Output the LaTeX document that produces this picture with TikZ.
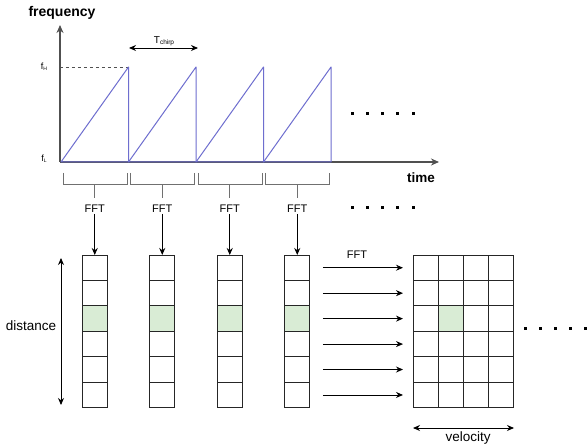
\documentclass[tikz,border=0pt]{standalone}
\usepackage{fontspec}
\setmainfont{Liberation Sans}
\usetikzlibrary{arrows.meta}
\definecolor{axisgray}{HTML}{505050}
\definecolor{brgray}{HTML}{707070}
\definecolor{chirpblue}{HTML}{6E6ECF}
\definecolor{cellgreen}{HTML}{D9ECD5}
\tikzset{
  arr/.style={-{Stealth[length=7bp,width=6bp]}, line width=0.9bp, black},
  dblarr/.style={{Stealth[length=7bp,width=6bp]}-{Stealth[length=7bp,width=6bp]}, line width=0.9bp, black},
  cell/.style={draw=black!85, line width=0.9bp, minimum width=25bp, minimum height=25.45bp,
               inner sep=0pt, outer sep=0pt, fill=white},
  hot/.style={cell, fill=cellgreen},
  lbl/.style={inner sep=1bp, font=\fontsize{13.5bp}{16bp}\selectfont},
  bold/.style={inner sep=1bp, font=\fontsize{14bp}{16bp}\selectfont\bfseries},
  fftlbl/.style={inner sep=1bp, font=\fontsize{11bp}{13bp}\selectfont},
  bracket/.style={draw=brgray, line width=1bp},
}
\newcommand{\dotrow}[3]{% x0, y, step
  \foreach \k in {0,...,4}{\fill ({#1+#3*\k-1.5},{#2-1.5}) rectangle ++(3,3);}}
\begin{document}
\begin{tikzpicture}[x=1bp,y=-1bp]
\useasboundingbox[fill=white] (0,0) rectangle (587,444);

% time-frequency axes
\coordinate (O) at (60,162);
\coordinate (ytop) at (60,25);
\coordinate (xend) at (439,162);
\draw[-{Stealth[length=8bp,width=7bp]}, axisgray, line width=1.2bp] (O) -- (ytop);
\draw[-{Stealth[length=8bp,width=7bp]}, axisgray, line width=1.2bp] (O) -- (xend);
\node[bold] (freq) at (62,13) {frequency};
\node[bold, font=\fontsize{13.5bp}{16bp}\selectfont\bfseries] (time) at (421,178) {time};
\node[inner sep=0pt, font=\fontsize{9bp}{10bp}\selectfont] (fH) at (44,67) {f\raisebox{-1bp}{\fontsize{5bp}{6bp}\selectfont H}};
\node[inner sep=0pt, font=\fontsize{9bp}{10bp}\selectfont] (fL) at (44,159) {f\raisebox{-1bp}{\fontsize{5bp}{6bp}\selectfont L}};
\draw[dashed, axisgray, line width=0.8bp] (60,67) -- (128,67);

% sawtooth chirps
\foreach \i in {0,...,3}{
  \pgfmathsetmacro{\xs}{61+67.5*\i}
  \pgfmathsetmacro{\xe}{\xs+67.5}
  \draw[chirpblue, line width=1bp, line join=round] (\xs,162) -- (\xe,67) -- (\xe,162) -- cycle;
}

% chirp duration
\node[inner sep=0pt, font=\fontsize{10bp}{12bp}\selectfont] (tc) at (164,41) {T\raisebox{-1.5bp}{\fontsize{6.5bp}{8bp}\selectfont chirp}};
\coordinate (tcl) at (129,48);
\coordinate (tcr) at (198,48);
\draw[dblarr] (tcl) -- (tcr);

% continuation dots
\dotrow{352}{114}{15.25}
\dotrow{352}{208}{15.25}
\dotrow{525}{328}{15}

% brackets, FFT labels and range columns
\foreach \i in {1,...,4}{
  \pgfmathsetmacro{\xs}{61+67.5*(\i-1)}
  \pgfmathsetmacro{\xc}{\xs+33.75}
  \draw[bracket] (\xs+2,173) -- (\xs+2,185) -- (\xs+66,185) -- (\xs+66,173);
  \coordinate (b\i) at (\xc,185);
  \coordinate (bs\i) at (\xc,198);
  \draw[bracket] (b\i) -- (bs\i);
  \node[fftlbl] (fft\i) at (\xc,209) {FFT};
  \foreach \r in {1,...,6}{
    \ifnum\r=3
      \node[hot] (col\i-\r) at (\xc,{255+25.45*(\r-0.5)}) {};
    \else
      \node[cell] (col\i-\r) at (\xc,{255+25.45*(\r-0.5)}) {};
    \fi
  }
  \draw[arr] (fft\i.south) -- (col\i-1.north);
}

% range axis
\node[lbl] (dist) at (31,326) {distance};
\coordinate (dtop) at (61,258);
\coordinate (dbot) at (61,405);
\draw[dblarr] (dtop) -- (dbot);

% range-Doppler matrix
\foreach \c in {1,...,4}{
  \foreach \r in {1,...,6}{
    \ifnum\r=3 \ifnum\c=2
      \node[hot] (m-\r-\c) at ({413+25*(\c-0.5)},{255+25.45*(\r-0.5)}) {};
    \else
      \node[cell] (m-\r-\c) at ({413+25*(\c-0.5)},{255+25.45*(\r-0.5)}) {};
    \fi\else
      \node[cell] (m-\r-\c) at ({413+25*(\c-0.5)},{255+25.45*(\r-0.5)}) {};
    \fi
  }
}

% second FFT across chirps
\node[fftlbl] (fftv) at (357,255) {FFT};
\foreach \r in {1,...,6}{
  \draw[arr, shorten <=13bp, shorten >=10bp] (col4-\r.east) -- (m-\r-1.west);
}

% velocity axis
\coordinate (vl) at (413,428);
\coordinate (vr) at (514,428);
\draw[dblarr] (vl) -- (vr);
\node[lbl] (vel) at (468,438) {velocity};
\end{tikzpicture}
\end{document}
